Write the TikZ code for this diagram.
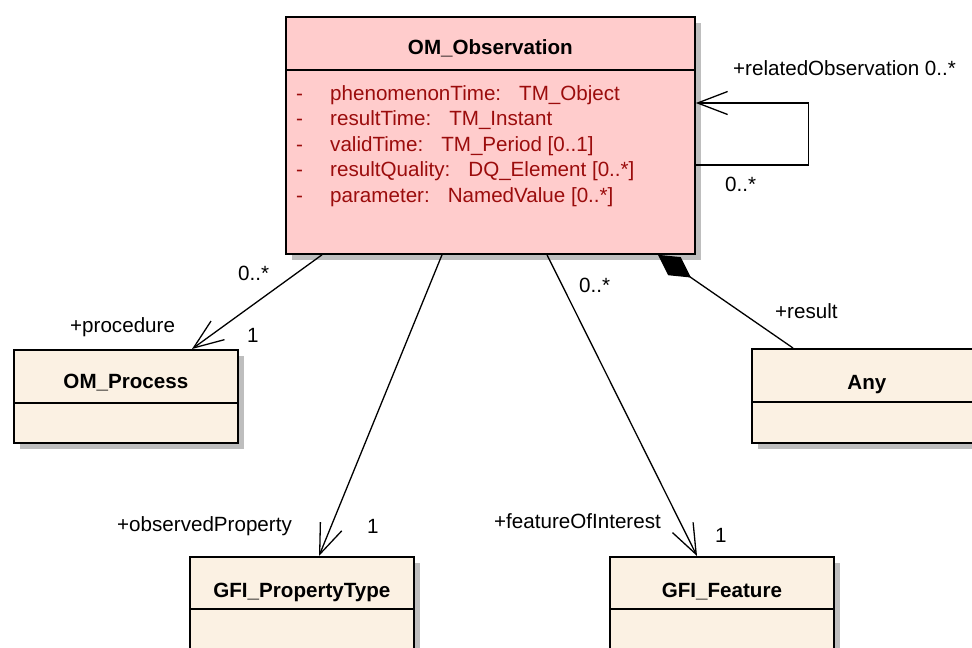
\documentclass[tikz,border=0pt]{standalone}
\usepackage{fontspec}
\setmainfont{Liberation Sans}
\usetikzlibrary{arrows.meta,shadows,calc}
\definecolor{obsfill}{RGB}{255,204,204}
\definecolor{clsfill}{RGB}{251,241,227}
\definecolor{attrred}{RGB}{155,12,12}
\definecolor{shadegray}{RGB}{190,190,190}
\newcommand{\attrgap}{\hspace{18pt}}
\begin{document}
\begin{tikzpicture}[x=1pt,y=-1pt,
 font=\fontsize{20.6}{24}\selectfont,
 cls/.style={draw=black, line width=1.8pt, inner sep=0pt, anchor=north west,
   drop shadow={shadow xshift=6pt, shadow yshift=-6pt, fill=shadegray, opacity=1}},
 sepline/.style={draw=black, line width=1.8pt},
 ctitle/.style={font=\fontsize{20.6}{24}\selectfont\bfseries, anchor=base, inner sep=0pt},
 attr/.style={text=attrred, anchor=base west, inner sep=0pt},
 lbl/.style={anchor=base west, inner sep=0pt},
 assoc/.style={draw=black, line width=1.3pt, -{Straight Barb[length=30pt,width=23pt]}},
 comp/.style={draw=black, line width=1.3pt, -{Diamond[length=40pt,width=22pt,fill=black]}},
]
\useasboundingbox (0,0) rectangle (972,648);
\clip (0,0) rectangle (972,648);

% classes
\node[cls, fill=obsfill, minimum width=409pt, minimum height=237pt] (obs) at (285,16) {};
\node[cls, fill=clsfill, minimum width=224pt, minimum height=93pt] (proc) at (13,349) {};
\node[cls, fill=clsfill, minimum width=230pt, minimum height=94pt] (any) at (751,348) {};
\node[cls, fill=clsfill, minimum width=224pt, minimum height=100pt] (prop) at (189,556) {};
\node[cls, fill=clsfill, minimum width=224pt, minimum height=100pt] (feat) at (609,556) {};

% compartment separators
\draw[sepline] ([yshift=-54pt]obs.north west) -- ([yshift=-54pt]obs.north east);
\draw[sepline] ([yshift=-54pt]proc.north west) -- ([yshift=-54pt]proc.north east);
\draw[sepline] ([yshift=-54pt]any.north west) -- ([yshift=-54pt]any.north east);
\draw[sepline] ([yshift=-53pt]prop.north west) -- ([yshift=-53pt]prop.north east);
\draw[sepline] ([yshift=-53pt]feat.north west) -- ([yshift=-53pt]feat.north east);

% titles
\node[ctitle] (tobs) at ([yshift=-38pt]obs.north) {OM\_Observation};
\node[ctitle] (tproc) at ([yshift=-39.5pt]proc.north) {OM\_Process};
\node[ctitle] (tany) at ([yshift=-41pt]any.north) {Any};
\node[ctitle] (tprop) at ([yshift=-41pt]prop.north) {GFI\_PropertyType};
\node[ctitle] (tfeat) at ([yshift=-41pt]feat.north) {GFI\_Feature};

% attributes
\node[attr] (d1) at (296,100) {-};
\node[attr] (a1) at (330,100) {phenomenonTime:\attrgap TM\_Object};
\node[attr] (d2) at (296,125.5) {-};
\node[attr] (a2) at (330,125.5) {resultTime:\attrgap TM\_Instant};
\node[attr] (d3) at (296,151) {-};
\node[attr] (a3) at (330,151) {validTime:\attrgap TM\_Period [0..1]};
\node[attr] (d4) at (296,176.5) {-};
\node[attr] (a4) at (330,176.5) {resultQuality:\attrgap DQ\_Element [0..*]};
\node[attr] (d5) at (296,202) {-};
\node[attr] (a5) at (330,202) {parameter:\attrgap NamedValue [0..*]};

% connector end points on the class borders
\coordinate (s1) at ([xshift=37pt]obs.south west);
\coordinate (s2) at ([xshift=157pt]obs.south west);
\coordinate (s3) at ([xshift=262pt]obs.south west);
\coordinate (s4) at ([xshift=373pt]obs.south west);
\coordinate (e1) at ([xshift=179pt]proc.north west);
\coordinate (e2) at ([xshift=130pt]prop.north west);
\coordinate (e3) at ([xshift=88pt]feat.north west);
\coordinate (e4) at ([xshift=42pt]any.north west);
\coordinate (loopa) at ([yshift=-149pt]obs.north east);
\coordinate (loopb) at ([yshift=-87pt]obs.north east);

% connectors
\draw[assoc] (s1) -- (e1);
\draw[assoc] (s2) -- (e2);
\draw[assoc] (s3) -- (e3);
\draw[comp] (e4) -- (s4);
\draw[assoc] (loopa) -- ++(113,0) |- (loopb);

% role and multiplicity labels
\node[lbl] (l1) at (733,75) {+relatedObservation 0..*};
\node[lbl] (l2) at (725,191) {0..*};
\node[lbl] (l3) at (238,280) {0..*};
\node[lbl] (l4) at (70,332) {+procedure};
\node[lbl] (l5) at (247,342) {1};
\node[lbl] (l6) at (775,318) {+result};
\node[lbl] (l7) at (579,292) {0..*};
\node[lbl] (l8) at (117,531) {+observedProperty};
\node[lbl] (l9) at (367,533) {1};
\node[lbl] (l10) at (494,528) {+featureOfInterest};
\node[lbl] (l11) at (715,542) {1};
\end{tikzpicture}
\end{document}
